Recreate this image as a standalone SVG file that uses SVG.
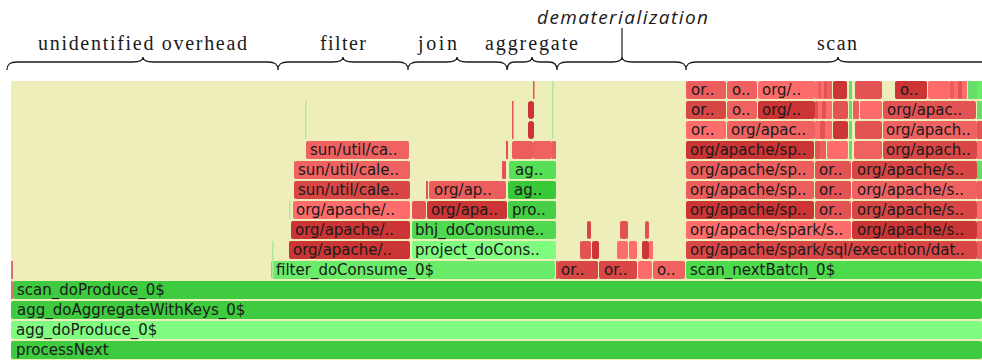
<svg xmlns="http://www.w3.org/2000/svg" width="982" height="360" viewBox="0 0 982 360">
<style>
.t{font-family:"DejaVu Sans",Verdana,sans-serif;font-size:15px;fill:#1a1a1a}
.lab{font-family:"Liberation Serif","Times New Roman",serif;font-size:20px;fill:#1a1a1a}
.dem{font-family:"Open Sans","DejaVu Sans",sans-serif;font-style:italic;font-weight:400;font-size:19px;fill:#1a1a1a}
.brace{fill:none;stroke:#1a1a1a;stroke-width:1.3}
.gm{fill:#3fcb3f}.gl{fill:#80fd80}.gf{fill:#6aec6a}.gs{fill:#4ddb4d}.gb{fill:#50d850}.gp{fill:#45cf45}.ga{fill:#38c838}.ge{fill:#55e055}
.gt{fill:#b0e6a0}.gg{fill:#66dd66}
.r1{fill:#cc3535}.r2{fill:#d84646}.r3{fill:#e35353}.r4{fill:#ec5e5e}.r5{fill:#ff6c6c}.r6{fill:#f06262}
</style>
<rect x="11" y="81" width="971" height="279" fill="#eeeebb"/>

<g id="braces">
<path class="brace" d="M7,70 C7,64 10,62 17,62 L133,62 C139,62 143,60 143,57 C143,60 147,62 153,62 L268,62 C275,62 278,64 278,70 C278,64 281,62 288,62 L333,62 C339,62 343,60 343,57 C343,60 347,62 353,62 L398,62 C405,62 408,64 408,70 C408,64 411,62 418,62 L447,62 C453,62 457,60 457,57 C457,60 461,62 467,62 L497,62 C504,62 507,64 507,70 C507,64 510,62 515,62 L524,62 C529,62 532,60 532,57 C532,60 535,62 540,62 L549,62 C554,62 557,64 557,70 C557,64 560,62 567,62 L612,62 C618,62 622,60 622,57 C622,60 626,62 632,62 L676,62 C683,62 686,64 686,70 C686,64 689,62 696,62 L828,62 C834,62 838,60 838,57 C838,60 842,62 848,62 L985,62 C992,62 995,64 995,70"/>
<line x1="622" y1="28" x2="622" y2="57" stroke="#1a1a1a" stroke-width="1.2"/>
</g>

<g id="labels">
<text class="lab" x="38" y="50" textLength="209" lengthAdjust="spacing">unidentified overhead</text>
<text class="lab" x="320" y="50" textLength="46" lengthAdjust="spacing">filter</text>
<text class="lab" x="418" y="50" textLength="39" lengthAdjust="spacing">join</text>
<text class="lab" x="485" y="50" textLength="93" lengthAdjust="spacing">aggregate</text>
<text class="lab" x="817" y="50" textLength="40" lengthAdjust="spacing">scan</text>
<text class="dem" x="537" y="24" textLength="171" lengthAdjust="spacing">dematerialization</text>
</g>

<g id="bottom">
<g id="processNext"><rect class="gm" x="11" y="341" width="971" height="18" rx="2"/><text class="t" x="16" y="355">processNext</text></g>
<g id="agg_doProduce"><rect class="gl" x="11" y="321" width="971" height="18" rx="2"/><text class="t" x="16" y="335">agg_doProduce_0$</text></g>
<g id="agg_doAggregateWithKeys"><rect class="gm" x="11" y="301" width="971" height="18" rx="2"/><text class="t" x="17" y="315">agg_doAggregateWithKeys_0$</text></g>
<g id="scan_doProduce"><rect fill="#e07070" x="11" y="281" width="2" height="18"/><rect class="gm" x="13" y="281" width="969" height="18" rx="2"/><text class="t" x="17" y="295">scan_doProduce_0$</text></g>
</g>

<g id="filter_stack">
<rect fill="#e07070" x="11" y="261" width="2" height="18"/>
<g id="filter_doConsume"><rect class="gf" x="271" y="261" width="284" height="18" rx="2"/><text class="t" x="276" y="275">filter_doConsume_0$</text></g>
<rect class="gt" x="272" y="241" width="1.5" height="38"/>
<g id="f5a"><rect class="r1" x="289" y="241" width="121" height="18" rx="2"/><text class="t" x="293" y="255">org/apache/..</text></g>
<g id="f6a"><rect class="r1" x="291" y="221" width="119" height="18" rx="2"/><text class="t" x="295" y="235">org/apache/..</text></g>
<rect class="gt" x="289" y="201" width="1.5" height="18"/>
<g id="f7a"><rect class="r5" x="293" y="201" width="117" height="18" rx="2"/><text class="t" x="296" y="215">org/apache/..</text></g>
<g id="f8a"><rect class="r2" x="294" y="181" width="116" height="18" rx="2"/><text class="t" x="298" y="195">sun/util/cale..</text></g>
<g id="f9a"><rect class="r6" x="294" y="161" width="116" height="18" rx="2"/><text class="t" x="298" y="175">sun/util/cale..</text></g>
<g id="f10a"><rect class="r6" x="306" y="141" width="103" height="18" rx="2"/><text class="t" x="310" y="155">sun/util/ca..</text></g>
<rect class="gt" x="305" y="101" width="1.5" height="38"/>
</g>

<g id="join_stack">
<g id="project_doCons"><rect class="gl" x="412" y="241" width="144" height="18" rx="2"/><text class="t" x="415" y="255">project_doCons..</text></g>
<g id="bhj_doConsume"><rect class="gb" x="412" y="221" width="144" height="18" rx="2"/><text class="t" x="415" y="235">bhj_doConsume..</text></g>
<rect class="r3" x="412" y="201" width="14" height="18" rx="2"/>
<g id="f7b"><rect class="r1" x="427" y="201" width="80" height="18" rx="2"/><text class="t" x="431" y="215">org/apa..</text></g>
<rect class="r3" x="426" y="181" width="2" height="18"/>
<g id="f8b"><rect class="r4" x="429" y="181" width="77" height="18" rx="2"/><text class="t" x="434" y="195">org/ap..</text></g>
</g>

<g id="agg_stack">
<g id="pro"><rect class="gp" x="508" y="201" width="48" height="18" rx="2"/><text class="t" x="512" y="215">pro..</text></g>
<g id="ag1"><rect class="ga" x="508" y="181" width="48" height="18" rx="2"/><text class="t" x="514" y="195">ag..</text></g>
<rect class="r3" x="502" y="161" width="4" height="18" rx="1"/>
<g id="ag2"><rect class="ge" x="509" y="161" width="47" height="18" rx="2"/><text class="t" x="515" y="175">ag..</text></g>
<rect class="r3" x="506" y="141" width="2" height="18"/>
<rect class="r4" x="512" y="141" width="21" height="18" rx="2"/>
<rect class="r6" x="533" y="141" width="19" height="18" rx="2"/>
<rect class="r4" x="552" y="141" width="4" height="18" rx="1"/>
<rect class="r3" x="512" y="101" width="1.5" height="38"/>
<rect class="r1" x="528" y="121" width="6" height="18" rx="3"/>
<rect class="r1" x="528" y="101" width="6" height="18" rx="3"/>
<rect class="r3" x="533" y="81" width="1.5" height="18"/>
<rect class="gt" x="552" y="81" width="1.5" height="58"/>
</g>

<g id="demat_stack">
<rect class="r3" x="556" y="261" width="2" height="18"/>
<g id="d1"><rect class="r2" x="558" y="261" width="40" height="18" rx="2"/><text class="t" x="561" y="275">or..</text></g>
<g id="d2"><rect class="r2" x="599" y="261" width="38" height="18" rx="2"/><text class="t" x="604" y="275">or..</text></g>
<rect class="r5" x="638" y="261" width="14" height="18" rx="2"/>
<g id="d3"><rect class="r6" x="653" y="261" width="32" height="18" rx="2"/><text class="t" x="657" y="275">o..</text></g>
<rect class="r3" x="580" y="241" width="11" height="18" rx="2"/>
<rect class="r1" x="592" y="241" width="7" height="18" rx="2"/>
<rect class="r5" x="617" y="241" width="11" height="18" rx="2"/>
<rect class="r5" x="629" y="241" width="8" height="18" rx="2"/>
<rect class="r1" x="642" y="241" width="7" height="18" rx="2"/>
<rect class="r5" x="649" y="241" width="4" height="18" rx="1"/>
<rect class="r2" x="587" y="221" width="4" height="18" rx="2"/>
<rect class="r3" x="620" y="221" width="8" height="18" rx="2"/>
<rect class="r3" x="645" y="221" width="4" height="18" rx="2"/>
</g>

<g id="scan_stack">
<g id="scan_nextBatch"><rect class="gs" x="686" y="261" width="296" height="18" rx="2"/><text class="t" x="690" y="275">scan_nextBatch_0$</text></g>
<g id="s5"><rect class="r2" x="686" y="241" width="291" height="18" rx="2"/><text class="t" x="690" y="255">org/apache/spark/sql/execution/dat..</text></g>
<rect class="r4" x="977" y="241" width="5" height="18"/>
<g id="s6a"><rect class="r5" x="686" y="221" width="165" height="18" rx="2"/><text class="t" x="690" y="235">org/apache/spark/s..</text></g>
<g id="s6b"><rect class="r1" x="852" y="221" width="125" height="18" rx="2"/><text class="t" x="857" y="235">org/apache/s..</text></g>
<rect class="r4" x="977" y="221" width="5" height="18"/>
<g id="s7a"><rect class="r1" x="686" y="201" width="128" height="18" rx="2"/><text class="t" x="690" y="215">org/apache/sp..</text></g>
<g id="s7b"><rect class="r3" x="815" y="201" width="36" height="18" rx="2"/><text class="t" x="819" y="215">or..</text></g>
<g id="s7c"><rect class="r2" x="852" y="201" width="125" height="18" rx="2"/><text class="t" x="857" y="215">org/apache/s..</text></g>
<rect class="r5" x="977" y="201" width="5" height="18"/>
<g id="s8a"><rect class="r4" x="686" y="181" width="128" height="18" rx="2"/><text class="t" x="690" y="195">org/apache/sp..</text></g>
<g id="s8b"><rect class="r3" x="815" y="181" width="36" height="18" rx="2"/><text class="t" x="819" y="195">or..</text></g>
<g id="s8c"><rect class="r6" x="852" y="181" width="125" height="18" rx="2"/><text class="t" x="857" y="195">org/apache/s..</text></g>
<rect class="r4" x="977" y="181" width="5" height="18"/>
<g id="s9a"><rect class="r4" x="686" y="161" width="128" height="18" rx="2"/><text class="t" x="690" y="175">org/apache/sp..</text></g>
<g id="s9b"><rect class="r3" x="815" y="161" width="36" height="18" rx="2"/><text class="t" x="819" y="175">or..</text></g>
<g id="s9c"><rect class="r2" x="852" y="161" width="125" height="18" rx="2"/><text class="t" x="857" y="175">org/apache/s..</text></g>
<rect class="gg" x="977" y="161" width="5" height="18"/>
<g id="s10a"><rect class="r1" x="686" y="141" width="128" height="18" rx="2"/><text class="t" x="690" y="155">org/apache/sp..</text></g>
<rect class="r3" x="815" y="141" width="5" height="18" rx="1"/>
<rect class="r4" x="820" y="141" width="6" height="18" rx="1"/>
<rect class="r5" x="827" y="141" width="21" height="18" rx="2"/>
<rect class="gg" x="849" y="141" width="3" height="18"/>
<rect class="r6" x="854" y="141" width="28" height="18" rx="2"/>
<g id="s10b"><rect class="r2" x="883" y="141" width="94" height="18" rx="2"/><text class="t" x="886" y="155">org/apach..</text></g>
<rect class="r5" x="977" y="141" width="5" height="18"/>
<g id="s11a"><rect class="r5" x="686" y="121" width="40" height="18" rx="2"/><text class="t" x="691" y="135">or..</text></g>
<g id="s11b"><rect class="r6" x="727" y="121" width="88" height="18" rx="2"/><text class="t" x="731" y="135">org/apac..</text></g>
<rect class="r5" x="815" y="121" width="5" height="18" rx="1"/>
<rect class="r3" x="820" y="121" width="5" height="18" rx="1"/>
<rect class="r5" x="825" y="121" width="7" height="18" rx="1"/>
<rect class="r1" x="833" y="121" width="15" height="18" rx="2"/>
<rect class="gg" x="849" y="121" width="3" height="18"/>
<rect class="r3" x="855" y="121" width="27" height="18" rx="2"/>
<g id="s11c"><rect class="r6" x="883" y="121" width="94" height="18" rx="2"/><text class="t" x="886" y="135">org/apach..</text></g>
<rect class="r3" x="977" y="121" width="5" height="18"/>
<g id="s12a"><rect class="r2" x="686" y="101" width="40" height="18" rx="2"/><text class="t" x="691" y="115">or..</text></g>
<g id="s12b"><rect class="r6" x="727" y="101" width="30" height="18" rx="2"/><text class="t" x="732" y="115">o..</text></g>
<g id="s12c"><rect class="r1" x="758" y="101" width="57" height="18" rx="2"/><text class="t" x="762" y="115">org/..</text></g>
<rect class="r3" x="815" y="101" width="3" height="18" rx="1"/>
<rect class="r5" x="818" y="101" width="4" height="18" rx="1"/>
<rect class="r3" x="822" y="101" width="4" height="18" rx="1"/>
<rect class="r5" x="826" y="101" width="6" height="18" rx="1"/>
<rect class="r3" x="833" y="101" width="15" height="18" rx="2"/>
<rect class="gg" x="849" y="101" width="3" height="18"/>
<rect class="r4" x="853" y="101" width="6" height="18" rx="1"/>
<rect class="r5" x="860" y="101" width="22" height="18" rx="2"/>
<g id="s12d"><rect class="r3" x="883" y="101" width="93" height="18" rx="2"/><text class="t" x="887" y="115">org/apac..</text></g>
<rect class="gg" x="977" y="101" width="5" height="18"/>
<g id="s13a"><rect class="r4" x="686" y="81" width="40" height="18" rx="2"/><text class="t" x="691" y="95">or..</text></g>
<g id="s13b"><rect class="r6" x="727" y="81" width="30" height="18" rx="2"/><text class="t" x="732" y="95">o..</text></g>
<g id="s13c"><rect class="r5" x="758" y="81" width="57" height="18" rx="2"/><text class="t" x="762" y="95">org/..</text></g>
<rect class="r5" x="815" y="81" width="3" height="18" rx="1"/>
<rect class="r4" x="818" y="81" width="3" height="18" rx="1"/>
<rect class="r5" x="821" y="81" width="3" height="18" rx="1"/>
<rect class="r3" x="824" y="81" width="3" height="18" rx="1"/>
<rect class="r6" x="827" y="81" width="5" height="18" rx="1"/>
<rect class="r1" x="833" y="81" width="14" height="18" rx="2"/>
<rect class="gg" x="849" y="81" width="3" height="18"/>
<rect class="r3" x="855" y="81" width="27" height="18" rx="2"/>
<g id="s13d"><rect class="r1" x="895" y="81" width="32" height="18" rx="2"/><text class="t" x="900" y="95">o..</text></g>
<rect class="r5" x="928" y="81" width="22" height="18" rx="2"/>
<rect class="r4" x="950" y="81" width="4" height="18" rx="1"/>
<rect class="r5" x="954" y="81" width="4" height="18" rx="1"/>
<rect class="r3" x="958" y="81" width="4" height="18" rx="1"/>
<rect class="r5" x="962" y="81" width="5" height="18" rx="1"/>
<rect class="gg" x="968" y="81" width="9" height="18" rx="1"/>
<rect class="gf" x="977" y="81" width="5" height="18"/>
</g>
</svg>
